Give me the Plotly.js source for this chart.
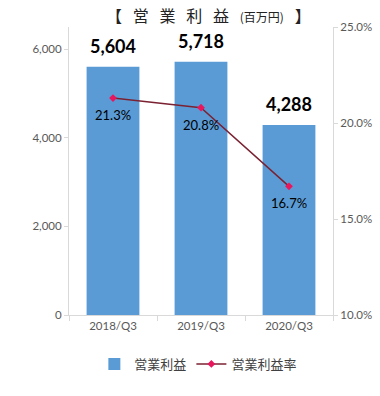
<!DOCTYPE html>
<html><head><meta charset="utf-8">
<script src="https://cdn.plot.ly/plotly-3.0.1.min.js"></script>
<style>body{margin:0;background:#fff}#c{width:380px;height:396px}</style>
</head><body><div id="c"></div>
<script>
const categories = ["2018/Q3", "2019/Q3", "2020/Q3"];
const profit = [5604, 5718, 4288];
const margin = [21.3, 20.8, 16.7];
const leftTicks = [0, 2000, 4000, 6000];
const rightTicks = [10, 15, 20, 25];
const profitName = "営業利益";
const marginName = "営業利益率";
const titleChars = ["【", "営", "業", "利", "益"];
const titleUnit = "(百万円)";
const titleEnd = "】";

const numFont = "Lato, 'Noto Sans CJK JP', sans-serif";
const jpFont = "'Noto Sans CJK JP', sans-serif";
const fmt = v => v.toLocaleString("en-US");
const gap = "\u00a0\u00a0\u00a0";

const traces = [
  {type: "bar", x: categories, y: profit, name: profitName, width: 0.6,
   marker: {color: "#5B9BD5"}, hoverinfo: "none"},
  {type: "scatter", mode: "lines+markers", x: categories, y: margin, name: marginName,
   yaxis: "y2", line: {color: "#7B2232", width: 1.5},
   marker: {color: "#E8175D", size: 6, symbol: "diamond"}, hoverinfo: "none"}
];

const annotations = [];
categories.forEach((c, i) => {
  annotations.push({x: c, y: profit[i], xref: "x", yref: "y", text: fmt(profit[i]),
    showarrow: false, yanchor: "bottom", yshift: 8,
    font: {family: numFont, size: 18, color: "#000", weight: "bold"}});
  annotations.push({x: c, y: margin[i], xref: "x", yref: "y2", text: margin[i].toFixed(1) + "%",
    showarrow: false, yanchor: "middle", yshift: -17,
    font: {family: numFont, size: 13, color: "#000"}});
});
annotations.push({xref: "paper", yref: "paper", x: 0.53, y: 1, yshift: 12, xanchor: "center", yanchor: "middle",
  showarrow: false,
  text: titleChars.join(gap) + gap + "<span style='font-size:12px'>" + titleUnit + "</span>" + gap + titleEnd,
  font: {family: jpFont, size: 16, color: "#222"}});

const layout = {
  width: 380, height: 396,
  margin: {l: 69, r: 47, t: 27, b: 81},
  paper_bgcolor: "#fff", plot_bgcolor: "#fff",
  showlegend: true,
  legend: {orientation: "h", x: 0.49, xanchor: "center", y: -0.17, yanchor: "middle",
    font: {family: jpFont, size: 13, color: "#404040"}, itemwidth: 30, tracegroupgap: 0},
  xaxis: {showline: true, linecolor: "#D9D9D9", linewidth: 1, ticks: "outside", tickson: "boundaries",
    ticklen: 5, tickcolor: "#D9D9D9", tickfont: {family: numFont, size: 11.5, color: "#595959"},
    showgrid: false, zeroline: false, fixedrange: true},
  yaxis: {range: [0, 6500], tickmode: "array", tickvals: leftTicks, ticktext: leftTicks.map(fmt),
    showline: true, linecolor: "#D9D9D9", ticks: "outside", ticklen: 4, tickcolor: "#D9D9D9",
    tickfont: {family: numFont, size: 11.5, color: "#595959"}, showgrid: false, zeroline: false},
  yaxis2: {overlaying: "y", side: "right", range: [10, 25], tickmode: "array", tickvals: rightTicks,
    ticktext: rightTicks.map(v => v.toFixed(1) + "%"), showline: true, linecolor: "#D9D9D9", ticks: "outside",
    ticklen: 4, tickcolor: "#D9D9D9", tickfont: {family: numFont, size: 11.5, color: "#595959"},
    showgrid: false, zeroline: false},
  annotations: annotations
};

Plotly.newPlot("c", traces, layout, {displayModeBar: false, staticPlot: true});
</script></body></html>
